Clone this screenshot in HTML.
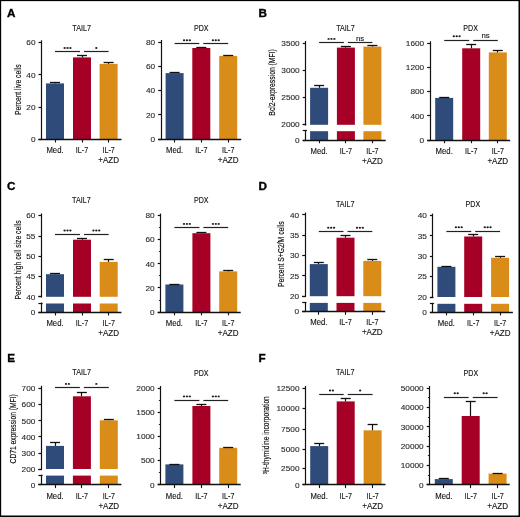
<!DOCTYPE html>
<html><head><meta charset="utf-8"><style>
html,body{margin:0;padding:0;background:#fff;width:520px;height:517px;overflow:hidden;}
svg text{font-family:"Liberation Sans", sans-serif;}
</style></head><body>
<svg width="520" height="517" viewBox="0 0 520 517" style="position:absolute;left:0;top:0;will-change:transform;font-family:'Liberation Sans', sans-serif">
<rect x="0" y="0" width="520" height="517" fill="#fff"/>
<rect x="46.00" y="83.40" width="18.00" height="55.90" fill="#2e4b7a"/>
<line x1="55.50" y1="83.40" x2="55.50" y2="82.50" stroke="#111" stroke-width="1.2"/>
<line x1="50.00" y1="82.50" x2="60.00" y2="82.50" stroke="#111" stroke-width="1.3"/>
<rect x="73.00" y="57.40" width="18.00" height="81.90" fill="#a60026"/>
<line x1="82.50" y1="57.40" x2="82.50" y2="55.20" stroke="#111" stroke-width="1.2"/>
<line x1="77.00" y1="55.50" x2="87.00" y2="55.50" stroke="#111" stroke-width="1.3"/>
<rect x="99.60" y="63.90" width="18.00" height="75.40" fill="#da8c19"/>
<line x1="108.50" y1="63.90" x2="108.50" y2="62.50" stroke="#111" stroke-width="1.2"/>
<line x1="103.60" y1="62.50" x2="113.60" y2="62.50" stroke="#111" stroke-width="1.3"/>
<line x1="41.50" y1="40.30" x2="41.50" y2="139.30" stroke="#111" stroke-width="1.2"/>
<line x1="38.50" y1="139.50" x2="121.50" y2="139.50" stroke="#111" stroke-width="1.4"/>
<line x1="55.50" y1="139.30" x2="55.50" y2="142.50" stroke="#111" stroke-width="1.1"/>
<line x1="82.50" y1="139.30" x2="82.50" y2="142.50" stroke="#111" stroke-width="1.1"/>
<line x1="108.50" y1="139.30" x2="108.50" y2="142.50" stroke="#111" stroke-width="1.1"/>
<line x1="38.50" y1="139.50" x2="41.50" y2="139.50" stroke="#111" stroke-width="1.2"/>
<text x="35.50" y="142.05" font-size="7.9" text-anchor="end" fill="#2a2a2a" font-weight="normal" textLength="4.6" lengthAdjust="spacingAndGlyphs" stroke="#2a2a2a" stroke-width="0.12">0</text>
<line x1="38.50" y1="107.50" x2="41.50" y2="107.50" stroke="#111" stroke-width="1.2"/>
<text x="35.50" y="109.78" font-size="7.9" text-anchor="end" fill="#2a2a2a" font-weight="normal" textLength="9.2" lengthAdjust="spacingAndGlyphs" stroke="#2a2a2a" stroke-width="0.12">20</text>
<line x1="38.50" y1="74.50" x2="41.50" y2="74.50" stroke="#111" stroke-width="1.2"/>
<text x="35.50" y="77.52" font-size="7.9" text-anchor="end" fill="#2a2a2a" font-weight="normal" textLength="9.2" lengthAdjust="spacingAndGlyphs" stroke="#2a2a2a" stroke-width="0.12">40</text>
<line x1="38.50" y1="42.50" x2="41.50" y2="42.50" stroke="#111" stroke-width="1.2"/>
<text x="35.50" y="45.25" font-size="7.9" text-anchor="end" fill="#2a2a2a" font-weight="normal" textLength="9.2" lengthAdjust="spacingAndGlyphs" stroke="#2a2a2a" stroke-width="0.12">60</text>
<text x="55.00" y="153.00" font-size="8.3" text-anchor="middle" fill="#111" font-weight="normal" textLength="17.2" lengthAdjust="spacingAndGlyphs" stroke="#111" stroke-width="0.12">Med.</text>
<text x="82.00" y="153.00" font-size="8.3" text-anchor="middle" fill="#111" font-weight="normal" textLength="12.3" lengthAdjust="spacingAndGlyphs" stroke="#111" stroke-width="0.12">IL-7</text>
<text x="108.60" y="153.00" font-size="8.3" text-anchor="middle" fill="#111" font-weight="normal" textLength="12.3" lengthAdjust="spacingAndGlyphs" stroke="#111" stroke-width="0.12">IL-7</text>
<text x="108.60" y="163.10" font-size="8.3" text-anchor="middle" fill="#111" font-weight="normal" textLength="20.8" lengthAdjust="spacingAndGlyphs" stroke="#111" stroke-width="0.12">+AZD</text>
<text x="81.60" y="30.60" font-size="8.2" text-anchor="middle" fill="#111" font-weight="normal" textLength="18.6" lengthAdjust="spacingAndGlyphs" stroke="#111" stroke-width="0.12">TAIL7</text>
<line x1="55.00" y1="51.50" x2="80.00" y2="51.50" stroke="#222" stroke-width="1.2"/>
<line x1="84.00" y1="51.50" x2="108.60" y2="51.50" stroke="#222" stroke-width="1.2"/>
<ellipse cx="64.60" cy="48.00" rx="1.15" ry="0.95" fill="#1a1a1a"/>
<ellipse cx="67.50" cy="48.00" rx="1.15" ry="0.95" fill="#1a1a1a"/>
<ellipse cx="70.40" cy="48.00" rx="1.15" ry="0.95" fill="#1a1a1a"/>
<ellipse cx="96.30" cy="48.00" rx="1.15" ry="0.95" fill="#1a1a1a"/>
<text transform="translate(20.90,89.70) rotate(-90)" x="0" y="0" font-size="8.8" text-anchor="middle" fill="#111" stroke="#111" stroke-width="0.18" textLength="50.5" lengthAdjust="spacingAndGlyphs">Percent live cells</text>
<rect x="165.60" y="73.10" width="18.00" height="66.20" fill="#2e4b7a"/>
<line x1="174.50" y1="73.10" x2="174.50" y2="72.60" stroke="#111" stroke-width="1.2"/>
<line x1="169.60" y1="72.50" x2="179.60" y2="72.50" stroke="#111" stroke-width="1.3"/>
<rect x="192.30" y="48.00" width="18.00" height="91.30" fill="#a60026"/>
<line x1="201.50" y1="48.00" x2="201.50" y2="47.30" stroke="#111" stroke-width="1.2"/>
<line x1="196.30" y1="47.50" x2="206.30" y2="47.50" stroke="#111" stroke-width="1.3"/>
<rect x="219.20" y="55.90" width="18.00" height="83.40" fill="#da8c19"/>
<line x1="228.50" y1="55.90" x2="228.50" y2="55.30" stroke="#111" stroke-width="1.2"/>
<line x1="223.20" y1="55.50" x2="233.20" y2="55.50" stroke="#111" stroke-width="1.3"/>
<line x1="161.50" y1="40.00" x2="161.50" y2="139.30" stroke="#111" stroke-width="1.2"/>
<line x1="158.20" y1="139.50" x2="241.20" y2="139.50" stroke="#111" stroke-width="1.4"/>
<line x1="174.50" y1="139.30" x2="174.50" y2="142.50" stroke="#111" stroke-width="1.1"/>
<line x1="201.50" y1="139.30" x2="201.50" y2="142.50" stroke="#111" stroke-width="1.1"/>
<line x1="228.50" y1="139.30" x2="228.50" y2="142.50" stroke="#111" stroke-width="1.1"/>
<line x1="158.20" y1="139.50" x2="161.20" y2="139.50" stroke="#111" stroke-width="1.2"/>
<text x="155.20" y="142.05" font-size="7.9" text-anchor="end" fill="#2a2a2a" font-weight="normal" textLength="4.6" lengthAdjust="spacingAndGlyphs" stroke="#2a2a2a" stroke-width="0.12">0</text>
<line x1="158.20" y1="114.50" x2="161.20" y2="114.50" stroke="#111" stroke-width="1.2"/>
<text x="155.20" y="117.73" font-size="7.9" text-anchor="end" fill="#2a2a2a" font-weight="normal" textLength="9.2" lengthAdjust="spacingAndGlyphs" stroke="#2a2a2a" stroke-width="0.12">20</text>
<line x1="158.20" y1="90.50" x2="161.20" y2="90.50" stroke="#111" stroke-width="1.2"/>
<text x="155.20" y="93.40" font-size="7.9" text-anchor="end" fill="#2a2a2a" font-weight="normal" textLength="9.2" lengthAdjust="spacingAndGlyphs" stroke="#2a2a2a" stroke-width="0.12">40</text>
<line x1="158.20" y1="66.50" x2="161.20" y2="66.50" stroke="#111" stroke-width="1.2"/>
<text x="155.20" y="69.08" font-size="7.9" text-anchor="end" fill="#2a2a2a" font-weight="normal" textLength="9.2" lengthAdjust="spacingAndGlyphs" stroke="#2a2a2a" stroke-width="0.12">60</text>
<line x1="158.20" y1="42.50" x2="161.20" y2="42.50" stroke="#111" stroke-width="1.2"/>
<text x="155.20" y="44.75" font-size="7.9" text-anchor="end" fill="#2a2a2a" font-weight="normal" textLength="9.2" lengthAdjust="spacingAndGlyphs" stroke="#2a2a2a" stroke-width="0.12">80</text>
<text x="174.60" y="153.00" font-size="8.3" text-anchor="middle" fill="#111" font-weight="normal" textLength="17.2" lengthAdjust="spacingAndGlyphs" stroke="#111" stroke-width="0.12">Med.</text>
<text x="201.30" y="153.00" font-size="8.3" text-anchor="middle" fill="#111" font-weight="normal" textLength="12.3" lengthAdjust="spacingAndGlyphs" stroke="#111" stroke-width="0.12">IL-7</text>
<text x="228.20" y="153.00" font-size="8.3" text-anchor="middle" fill="#111" font-weight="normal" textLength="12.3" lengthAdjust="spacingAndGlyphs" stroke="#111" stroke-width="0.12">IL-7</text>
<text x="228.20" y="163.10" font-size="8.3" text-anchor="middle" fill="#111" font-weight="normal" textLength="20.8" lengthAdjust="spacingAndGlyphs" stroke="#111" stroke-width="0.12">+AZD</text>
<text x="201.30" y="30.70" font-size="8.2" text-anchor="middle" fill="#111" font-weight="normal" textLength="14.6" lengthAdjust="spacingAndGlyphs" stroke="#111" stroke-width="0.12">PDX</text>
<line x1="174.60" y1="43.50" x2="199.30" y2="43.50" stroke="#222" stroke-width="1.2"/>
<line x1="203.30" y1="43.50" x2="228.20" y2="43.50" stroke="#222" stroke-width="1.2"/>
<ellipse cx="184.05" cy="40.20" rx="1.15" ry="0.95" fill="#1a1a1a"/>
<ellipse cx="186.95" cy="40.20" rx="1.15" ry="0.95" fill="#1a1a1a"/>
<ellipse cx="189.85" cy="40.20" rx="1.15" ry="0.95" fill="#1a1a1a"/>
<ellipse cx="212.85" cy="40.20" rx="1.15" ry="0.95" fill="#1a1a1a"/>
<ellipse cx="215.75" cy="40.20" rx="1.15" ry="0.95" fill="#1a1a1a"/>
<ellipse cx="218.65" cy="40.20" rx="1.15" ry="0.95" fill="#1a1a1a"/>
<rect x="310.10" y="87.80" width="18.00" height="37.00" fill="#2e4b7a"/>
<rect x="310.10" y="131.20" width="18.00" height="8.80" fill="#2e4b7a"/>
<line x1="319.50" y1="87.80" x2="319.50" y2="85.30" stroke="#111" stroke-width="1.2"/>
<line x1="314.10" y1="85.50" x2="324.10" y2="85.50" stroke="#111" stroke-width="1.3"/>
<rect x="336.90" y="47.60" width="18.00" height="77.20" fill="#a60026"/>
<rect x="336.90" y="131.20" width="18.00" height="8.80" fill="#a60026"/>
<line x1="345.50" y1="47.60" x2="345.50" y2="46.10" stroke="#111" stroke-width="1.2"/>
<line x1="340.90" y1="46.50" x2="350.90" y2="46.50" stroke="#111" stroke-width="1.3"/>
<rect x="363.40" y="46.60" width="18.00" height="78.20" fill="#da8c19"/>
<rect x="363.40" y="131.20" width="18.00" height="8.80" fill="#da8c19"/>
<line x1="372.50" y1="46.60" x2="372.50" y2="45.60" stroke="#111" stroke-width="1.2"/>
<line x1="367.40" y1="45.50" x2="377.40" y2="45.50" stroke="#111" stroke-width="1.3"/>
<line x1="305.50" y1="41.00" x2="305.50" y2="125.50" stroke="#111" stroke-width="1.2"/>
<line x1="305.50" y1="130.30" x2="305.50" y2="140.00" stroke="#111" stroke-width="1.2"/>
<line x1="302.70" y1="124.50" x2="306.30" y2="124.50" stroke="#111" stroke-width="1.2"/>
<line x1="302.70" y1="130.50" x2="306.90" y2="130.50" stroke="#111" stroke-width="1.2"/>
<line x1="302.70" y1="140.50" x2="385.70" y2="140.50" stroke="#111" stroke-width="1.4"/>
<line x1="319.50" y1="140.00" x2="319.50" y2="143.20" stroke="#111" stroke-width="1.1"/>
<line x1="345.50" y1="140.00" x2="345.50" y2="143.20" stroke="#111" stroke-width="1.1"/>
<line x1="372.50" y1="140.00" x2="372.50" y2="143.20" stroke="#111" stroke-width="1.1"/>
<line x1="302.70" y1="140.50" x2="305.70" y2="140.50" stroke="#111" stroke-width="1.2"/>
<text x="299.70" y="142.75" font-size="7.9" text-anchor="end" fill="#2a2a2a" font-weight="normal" textLength="4.6" lengthAdjust="spacingAndGlyphs" stroke="#2a2a2a" stroke-width="0.12">0</text>
<line x1="302.70" y1="124.50" x2="305.70" y2="124.50" stroke="#111" stroke-width="1.2"/>
<text x="299.70" y="127.35" font-size="7.9" text-anchor="end" fill="#2a2a2a" font-weight="normal" textLength="18.4" lengthAdjust="spacingAndGlyphs" stroke="#2a2a2a" stroke-width="0.12">2000</text>
<line x1="302.70" y1="97.50" x2="305.70" y2="97.50" stroke="#111" stroke-width="1.2"/>
<text x="299.70" y="100.15" font-size="7.9" text-anchor="end" fill="#2a2a2a" font-weight="normal" textLength="18.4" lengthAdjust="spacingAndGlyphs" stroke="#2a2a2a" stroke-width="0.12">2500</text>
<line x1="302.70" y1="70.50" x2="305.70" y2="70.50" stroke="#111" stroke-width="1.2"/>
<text x="299.70" y="72.95" font-size="7.9" text-anchor="end" fill="#2a2a2a" font-weight="normal" textLength="18.4" lengthAdjust="spacingAndGlyphs" stroke="#2a2a2a" stroke-width="0.12">3000</text>
<line x1="302.70" y1="43.50" x2="305.70" y2="43.50" stroke="#111" stroke-width="1.2"/>
<text x="299.70" y="45.75" font-size="7.9" text-anchor="end" fill="#2a2a2a" font-weight="normal" textLength="18.4" lengthAdjust="spacingAndGlyphs" stroke="#2a2a2a" stroke-width="0.12">3500</text>
<text x="319.10" y="153.70" font-size="8.3" text-anchor="middle" fill="#111" font-weight="normal" textLength="17.2" lengthAdjust="spacingAndGlyphs" stroke="#111" stroke-width="0.12">Med.</text>
<text x="345.90" y="153.70" font-size="8.3" text-anchor="middle" fill="#111" font-weight="normal" textLength="12.3" lengthAdjust="spacingAndGlyphs" stroke="#111" stroke-width="0.12">IL-7</text>
<text x="372.40" y="153.70" font-size="8.3" text-anchor="middle" fill="#111" font-weight="normal" textLength="12.3" lengthAdjust="spacingAndGlyphs" stroke="#111" stroke-width="0.12">IL-7</text>
<text x="372.40" y="163.80" font-size="8.3" text-anchor="middle" fill="#111" font-weight="normal" textLength="20.8" lengthAdjust="spacingAndGlyphs" stroke="#111" stroke-width="0.12">+AZD</text>
<text x="345.50" y="31.00" font-size="8.2" text-anchor="middle" fill="#111" font-weight="normal" textLength="18.6" lengthAdjust="spacingAndGlyphs" stroke="#111" stroke-width="0.12">TAIL7</text>
<line x1="319.10" y1="42.50" x2="343.90" y2="42.50" stroke="#222" stroke-width="1.2"/>
<line x1="347.90" y1="42.50" x2="372.40" y2="42.50" stroke="#222" stroke-width="1.2"/>
<ellipse cx="328.60" cy="38.90" rx="1.15" ry="0.95" fill="#1a1a1a"/>
<ellipse cx="331.50" cy="38.90" rx="1.15" ry="0.95" fill="#1a1a1a"/>
<ellipse cx="334.40" cy="38.90" rx="1.15" ry="0.95" fill="#1a1a1a"/>
<text x="360.15" y="41.00" font-size="7.8" text-anchor="middle" fill="#111" font-weight="normal" stroke="#111" stroke-width="0.12">ns</text>
<text transform="translate(274.90,82.40) rotate(-90)" x="0" y="0" font-size="8.8" text-anchor="middle" fill="#111" stroke="#111" stroke-width="0.18" textLength="66.5" lengthAdjust="spacingAndGlyphs">Bcl2-expression (MFI)</text>
<rect x="435.20" y="97.90" width="18.00" height="42.10" fill="#2e4b7a"/>
<line x1="444.50" y1="97.90" x2="444.50" y2="97.40" stroke="#111" stroke-width="1.2"/>
<line x1="439.20" y1="97.50" x2="449.20" y2="97.50" stroke="#111" stroke-width="1.3"/>
<rect x="462.20" y="48.30" width="18.00" height="91.70" fill="#a60026"/>
<line x1="471.50" y1="48.30" x2="471.50" y2="44.40" stroke="#111" stroke-width="1.2"/>
<line x1="466.20" y1="44.50" x2="476.20" y2="44.50" stroke="#111" stroke-width="1.3"/>
<rect x="488.80" y="52.40" width="18.00" height="87.60" fill="#da8c19"/>
<line x1="497.50" y1="52.40" x2="497.50" y2="50.30" stroke="#111" stroke-width="1.2"/>
<line x1="492.80" y1="50.50" x2="502.80" y2="50.50" stroke="#111" stroke-width="1.3"/>
<line x1="430.50" y1="41.30" x2="430.50" y2="140.00" stroke="#111" stroke-width="1.2"/>
<line x1="427.20" y1="140.50" x2="510.20" y2="140.50" stroke="#111" stroke-width="1.4"/>
<line x1="444.50" y1="140.00" x2="444.50" y2="143.20" stroke="#111" stroke-width="1.1"/>
<line x1="471.50" y1="140.00" x2="471.50" y2="143.20" stroke="#111" stroke-width="1.1"/>
<line x1="497.50" y1="140.00" x2="497.50" y2="143.20" stroke="#111" stroke-width="1.1"/>
<line x1="427.20" y1="140.50" x2="430.20" y2="140.50" stroke="#111" stroke-width="1.2"/>
<text x="424.20" y="142.75" font-size="7.9" text-anchor="end" fill="#2a2a2a" font-weight="normal" textLength="4.6" lengthAdjust="spacingAndGlyphs" stroke="#2a2a2a" stroke-width="0.12">0</text>
<line x1="427.20" y1="115.50" x2="430.20" y2="115.50" stroke="#111" stroke-width="1.2"/>
<text x="424.20" y="118.53" font-size="7.9" text-anchor="end" fill="#2a2a2a" font-weight="normal" textLength="13.799999999999999" lengthAdjust="spacingAndGlyphs" stroke="#2a2a2a" stroke-width="0.12">400</text>
<line x1="427.20" y1="91.50" x2="430.20" y2="91.50" stroke="#111" stroke-width="1.2"/>
<text x="424.20" y="94.30" font-size="7.9" text-anchor="end" fill="#2a2a2a" font-weight="normal" textLength="13.799999999999999" lengthAdjust="spacingAndGlyphs" stroke="#2a2a2a" stroke-width="0.12">800</text>
<line x1="427.20" y1="67.50" x2="430.20" y2="67.50" stroke="#111" stroke-width="1.2"/>
<text x="424.20" y="70.08" font-size="7.9" text-anchor="end" fill="#2a2a2a" font-weight="normal" textLength="18.4" lengthAdjust="spacingAndGlyphs" stroke="#2a2a2a" stroke-width="0.12">1200</text>
<line x1="427.20" y1="43.50" x2="430.20" y2="43.50" stroke="#111" stroke-width="1.2"/>
<text x="424.20" y="45.85" font-size="7.9" text-anchor="end" fill="#2a2a2a" font-weight="normal" textLength="18.4" lengthAdjust="spacingAndGlyphs" stroke="#2a2a2a" stroke-width="0.12">1600</text>
<text x="444.20" y="153.70" font-size="8.3" text-anchor="middle" fill="#111" font-weight="normal" textLength="17.2" lengthAdjust="spacingAndGlyphs" stroke="#111" stroke-width="0.12">Med.</text>
<text x="471.20" y="153.70" font-size="8.3" text-anchor="middle" fill="#111" font-weight="normal" textLength="12.3" lengthAdjust="spacingAndGlyphs" stroke="#111" stroke-width="0.12">IL-7</text>
<text x="497.80" y="153.70" font-size="8.3" text-anchor="middle" fill="#111" font-weight="normal" textLength="12.3" lengthAdjust="spacingAndGlyphs" stroke="#111" stroke-width="0.12">IL-7</text>
<text x="497.80" y="163.80" font-size="8.3" text-anchor="middle" fill="#111" font-weight="normal" textLength="20.8" lengthAdjust="spacingAndGlyphs" stroke="#111" stroke-width="0.12">+AZD</text>
<text x="470.60" y="30.70" font-size="8.2" text-anchor="middle" fill="#111" font-weight="normal" textLength="14.6" lengthAdjust="spacingAndGlyphs" stroke="#111" stroke-width="0.12">PDX</text>
<line x1="444.20" y1="40.50" x2="469.20" y2="40.50" stroke="#222" stroke-width="1.2"/>
<line x1="473.20" y1="40.50" x2="497.80" y2="40.50" stroke="#222" stroke-width="1.2"/>
<ellipse cx="453.80" cy="36.30" rx="1.15" ry="0.95" fill="#1a1a1a"/>
<ellipse cx="456.70" cy="36.30" rx="1.15" ry="0.95" fill="#1a1a1a"/>
<ellipse cx="459.60" cy="36.30" rx="1.15" ry="0.95" fill="#1a1a1a"/>
<text x="485.50" y="38.40" font-size="7.8" text-anchor="middle" fill="#111" font-weight="normal" stroke="#111" stroke-width="0.12">ns</text>
<rect x="46.00" y="274.20" width="18.00" height="22.60" fill="#2e4b7a"/>
<rect x="46.00" y="303.50" width="18.00" height="8.80" fill="#2e4b7a"/>
<line x1="55.50" y1="274.20" x2="55.50" y2="273.60" stroke="#111" stroke-width="1.2"/>
<line x1="50.00" y1="273.50" x2="60.00" y2="273.50" stroke="#111" stroke-width="1.3"/>
<rect x="73.00" y="239.70" width="18.00" height="57.10" fill="#a60026"/>
<rect x="73.00" y="303.50" width="18.00" height="8.80" fill="#a60026"/>
<line x1="82.50" y1="239.70" x2="82.50" y2="238.20" stroke="#111" stroke-width="1.2"/>
<line x1="77.00" y1="238.50" x2="87.00" y2="238.50" stroke="#111" stroke-width="1.3"/>
<rect x="99.70" y="261.90" width="18.00" height="34.90" fill="#da8c19"/>
<rect x="99.70" y="303.50" width="18.00" height="8.80" fill="#da8c19"/>
<line x1="108.50" y1="261.90" x2="108.50" y2="259.80" stroke="#111" stroke-width="1.2"/>
<line x1="103.70" y1="259.50" x2="113.70" y2="259.50" stroke="#111" stroke-width="1.3"/>
<line x1="41.50" y1="213.40" x2="41.50" y2="297.50" stroke="#111" stroke-width="1.2"/>
<line x1="41.50" y1="302.60" x2="41.50" y2="312.30" stroke="#111" stroke-width="1.2"/>
<line x1="38.40" y1="296.50" x2="42.00" y2="296.50" stroke="#111" stroke-width="1.2"/>
<line x1="38.40" y1="303.50" x2="42.60" y2="303.50" stroke="#111" stroke-width="1.2"/>
<line x1="38.40" y1="312.50" x2="121.40" y2="312.50" stroke="#111" stroke-width="1.4"/>
<line x1="55.50" y1="312.30" x2="55.50" y2="315.50" stroke="#111" stroke-width="1.1"/>
<line x1="82.50" y1="312.30" x2="82.50" y2="315.50" stroke="#111" stroke-width="1.1"/>
<line x1="108.50" y1="312.30" x2="108.50" y2="315.50" stroke="#111" stroke-width="1.1"/>
<line x1="38.40" y1="312.50" x2="41.40" y2="312.50" stroke="#111" stroke-width="1.2"/>
<text x="35.40" y="315.05" font-size="7.9" text-anchor="end" fill="#2a2a2a" font-weight="normal" textLength="4.6" lengthAdjust="spacingAndGlyphs" stroke="#2a2a2a" stroke-width="0.12">0</text>
<line x1="38.40" y1="296.50" x2="41.40" y2="296.50" stroke="#111" stroke-width="1.2"/>
<text x="35.40" y="299.65" font-size="7.9" text-anchor="end" fill="#2a2a2a" font-weight="normal" textLength="9.2" lengthAdjust="spacingAndGlyphs" stroke="#2a2a2a" stroke-width="0.12">40</text>
<line x1="38.40" y1="276.50" x2="41.40" y2="276.50" stroke="#111" stroke-width="1.2"/>
<text x="35.40" y="279.35" font-size="7.9" text-anchor="end" fill="#2a2a2a" font-weight="normal" textLength="9.2" lengthAdjust="spacingAndGlyphs" stroke="#2a2a2a" stroke-width="0.12">45</text>
<line x1="38.40" y1="256.50" x2="41.40" y2="256.50" stroke="#111" stroke-width="1.2"/>
<text x="35.40" y="259.05" font-size="7.9" text-anchor="end" fill="#2a2a2a" font-weight="normal" textLength="9.2" lengthAdjust="spacingAndGlyphs" stroke="#2a2a2a" stroke-width="0.12">50</text>
<line x1="38.40" y1="236.50" x2="41.40" y2="236.50" stroke="#111" stroke-width="1.2"/>
<text x="35.40" y="238.75" font-size="7.9" text-anchor="end" fill="#2a2a2a" font-weight="normal" textLength="9.2" lengthAdjust="spacingAndGlyphs" stroke="#2a2a2a" stroke-width="0.12">55</text>
<line x1="38.40" y1="215.50" x2="41.40" y2="215.50" stroke="#111" stroke-width="1.2"/>
<text x="35.40" y="218.35" font-size="7.9" text-anchor="end" fill="#2a2a2a" font-weight="normal" textLength="9.2" lengthAdjust="spacingAndGlyphs" stroke="#2a2a2a" stroke-width="0.12">60</text>
<text x="55.00" y="326.00" font-size="8.3" text-anchor="middle" fill="#111" font-weight="normal" textLength="17.2" lengthAdjust="spacingAndGlyphs" stroke="#111" stroke-width="0.12">Med.</text>
<text x="82.00" y="326.00" font-size="8.3" text-anchor="middle" fill="#111" font-weight="normal" textLength="12.3" lengthAdjust="spacingAndGlyphs" stroke="#111" stroke-width="0.12">IL-7</text>
<text x="108.70" y="326.00" font-size="8.3" text-anchor="middle" fill="#111" font-weight="normal" textLength="12.3" lengthAdjust="spacingAndGlyphs" stroke="#111" stroke-width="0.12">IL-7</text>
<text x="108.70" y="336.10" font-size="8.3" text-anchor="middle" fill="#111" font-weight="normal" textLength="20.8" lengthAdjust="spacingAndGlyphs" stroke="#111" stroke-width="0.12">+AZD</text>
<text x="81.40" y="203.00" font-size="8.2" text-anchor="middle" fill="#111" font-weight="normal" textLength="18.6" lengthAdjust="spacingAndGlyphs" stroke="#111" stroke-width="0.12">TAIL7</text>
<line x1="55.00" y1="234.50" x2="80.00" y2="234.50" stroke="#222" stroke-width="1.2"/>
<line x1="84.00" y1="234.50" x2="108.70" y2="234.50" stroke="#222" stroke-width="1.2"/>
<ellipse cx="64.60" cy="230.50" rx="1.15" ry="0.95" fill="#1a1a1a"/>
<ellipse cx="67.50" cy="230.50" rx="1.15" ry="0.95" fill="#1a1a1a"/>
<ellipse cx="70.40" cy="230.50" rx="1.15" ry="0.95" fill="#1a1a1a"/>
<ellipse cx="93.45" cy="230.50" rx="1.15" ry="0.95" fill="#1a1a1a"/>
<ellipse cx="96.35" cy="230.50" rx="1.15" ry="0.95" fill="#1a1a1a"/>
<ellipse cx="99.25" cy="230.50" rx="1.15" ry="0.95" fill="#1a1a1a"/>
<text transform="translate(20.90,260.00) rotate(-90)" x="0" y="0" font-size="8.8" text-anchor="middle" fill="#111" stroke="#111" stroke-width="0.18" textLength="79" lengthAdjust="spacingAndGlyphs">Percent high cell size cells</text>
<rect x="165.40" y="284.50" width="18.00" height="27.60" fill="#2e4b7a"/>
<line x1="174.50" y1="284.50" x2="174.50" y2="284.00" stroke="#111" stroke-width="1.2"/>
<line x1="169.40" y1="284.50" x2="179.40" y2="284.50" stroke="#111" stroke-width="1.3"/>
<rect x="192.40" y="233.20" width="18.00" height="78.90" fill="#a60026"/>
<line x1="201.50" y1="233.20" x2="201.50" y2="232.60" stroke="#111" stroke-width="1.2"/>
<line x1="196.40" y1="232.50" x2="206.40" y2="232.50" stroke="#111" stroke-width="1.3"/>
<rect x="219.20" y="271.40" width="18.00" height="40.70" fill="#da8c19"/>
<line x1="228.50" y1="271.40" x2="228.50" y2="270.80" stroke="#111" stroke-width="1.2"/>
<line x1="223.20" y1="270.50" x2="233.20" y2="270.50" stroke="#111" stroke-width="1.3"/>
<line x1="160.50" y1="213.60" x2="160.50" y2="312.10" stroke="#111" stroke-width="1.2"/>
<line x1="157.70" y1="312.50" x2="240.70" y2="312.50" stroke="#111" stroke-width="1.4"/>
<line x1="174.50" y1="312.10" x2="174.50" y2="315.30" stroke="#111" stroke-width="1.1"/>
<line x1="201.50" y1="312.10" x2="201.50" y2="315.30" stroke="#111" stroke-width="1.1"/>
<line x1="228.50" y1="312.10" x2="228.50" y2="315.30" stroke="#111" stroke-width="1.1"/>
<line x1="157.70" y1="312.50" x2="160.70" y2="312.50" stroke="#111" stroke-width="1.2"/>
<text x="154.70" y="314.85" font-size="7.9" text-anchor="end" fill="#2a2a2a" font-weight="normal" textLength="4.6" lengthAdjust="spacingAndGlyphs" stroke="#2a2a2a" stroke-width="0.12">0</text>
<line x1="157.70" y1="287.50" x2="160.70" y2="287.50" stroke="#111" stroke-width="1.2"/>
<text x="154.70" y="290.73" font-size="7.9" text-anchor="end" fill="#2a2a2a" font-weight="normal" textLength="9.2" lengthAdjust="spacingAndGlyphs" stroke="#2a2a2a" stroke-width="0.12">20</text>
<line x1="157.70" y1="263.50" x2="160.70" y2="263.50" stroke="#111" stroke-width="1.2"/>
<text x="154.70" y="266.60" font-size="7.9" text-anchor="end" fill="#2a2a2a" font-weight="normal" textLength="9.2" lengthAdjust="spacingAndGlyphs" stroke="#2a2a2a" stroke-width="0.12">40</text>
<line x1="157.70" y1="239.50" x2="160.70" y2="239.50" stroke="#111" stroke-width="1.2"/>
<text x="154.70" y="242.47" font-size="7.9" text-anchor="end" fill="#2a2a2a" font-weight="normal" textLength="9.2" lengthAdjust="spacingAndGlyphs" stroke="#2a2a2a" stroke-width="0.12">60</text>
<line x1="157.70" y1="215.50" x2="160.70" y2="215.50" stroke="#111" stroke-width="1.2"/>
<text x="154.70" y="218.35" font-size="7.9" text-anchor="end" fill="#2a2a2a" font-weight="normal" textLength="9.2" lengthAdjust="spacingAndGlyphs" stroke="#2a2a2a" stroke-width="0.12">80</text>
<line x1="158.90" y1="300.50" x2="160.70" y2="300.50" stroke="#111" stroke-width="0.9"/>
<line x1="158.90" y1="275.50" x2="160.70" y2="275.50" stroke="#111" stroke-width="0.9"/>
<line x1="158.90" y1="251.50" x2="160.70" y2="251.50" stroke="#111" stroke-width="0.9"/>
<line x1="158.90" y1="227.50" x2="160.70" y2="227.50" stroke="#111" stroke-width="0.9"/>
<text x="174.40" y="325.80" font-size="8.3" text-anchor="middle" fill="#111" font-weight="normal" textLength="17.2" lengthAdjust="spacingAndGlyphs" stroke="#111" stroke-width="0.12">Med.</text>
<text x="201.40" y="325.80" font-size="8.3" text-anchor="middle" fill="#111" font-weight="normal" textLength="12.3" lengthAdjust="spacingAndGlyphs" stroke="#111" stroke-width="0.12">IL-7</text>
<text x="228.20" y="325.80" font-size="8.3" text-anchor="middle" fill="#111" font-weight="normal" textLength="12.3" lengthAdjust="spacingAndGlyphs" stroke="#111" stroke-width="0.12">IL-7</text>
<text x="228.20" y="335.90" font-size="8.3" text-anchor="middle" fill="#111" font-weight="normal" textLength="20.8" lengthAdjust="spacingAndGlyphs" stroke="#111" stroke-width="0.12">+AZD</text>
<text x="201.20" y="202.50" font-size="8.2" text-anchor="middle" fill="#111" font-weight="normal" textLength="14.6" lengthAdjust="spacingAndGlyphs" stroke="#111" stroke-width="0.12">PDX</text>
<line x1="174.40" y1="227.50" x2="199.40" y2="227.50" stroke="#222" stroke-width="1.2"/>
<line x1="203.40" y1="227.50" x2="228.20" y2="227.50" stroke="#222" stroke-width="1.2"/>
<ellipse cx="184.00" cy="223.90" rx="1.15" ry="0.95" fill="#1a1a1a"/>
<ellipse cx="186.90" cy="223.90" rx="1.15" ry="0.95" fill="#1a1a1a"/>
<ellipse cx="189.80" cy="223.90" rx="1.15" ry="0.95" fill="#1a1a1a"/>
<ellipse cx="212.90" cy="223.90" rx="1.15" ry="0.95" fill="#1a1a1a"/>
<ellipse cx="215.80" cy="223.90" rx="1.15" ry="0.95" fill="#1a1a1a"/>
<ellipse cx="218.70" cy="223.90" rx="1.15" ry="0.95" fill="#1a1a1a"/>
<rect x="309.80" y="264.10" width="18.00" height="32.10" fill="#2e4b7a"/>
<rect x="309.80" y="302.90" width="18.00" height="8.70" fill="#2e4b7a"/>
<line x1="318.50" y1="264.10" x2="318.50" y2="262.40" stroke="#111" stroke-width="1.2"/>
<line x1="313.80" y1="262.50" x2="323.80" y2="262.50" stroke="#111" stroke-width="1.3"/>
<rect x="336.50" y="237.70" width="18.00" height="58.50" fill="#a60026"/>
<rect x="336.50" y="302.90" width="18.00" height="8.70" fill="#a60026"/>
<line x1="345.50" y1="237.70" x2="345.50" y2="235.70" stroke="#111" stroke-width="1.2"/>
<line x1="340.50" y1="235.50" x2="350.50" y2="235.50" stroke="#111" stroke-width="1.3"/>
<rect x="363.30" y="260.90" width="18.00" height="35.30" fill="#da8c19"/>
<rect x="363.30" y="302.90" width="18.00" height="8.70" fill="#da8c19"/>
<line x1="372.50" y1="260.90" x2="372.50" y2="259.80" stroke="#111" stroke-width="1.2"/>
<line x1="367.30" y1="259.50" x2="377.30" y2="259.50" stroke="#111" stroke-width="1.3"/>
<line x1="305.50" y1="212.60" x2="305.50" y2="296.90" stroke="#111" stroke-width="1.2"/>
<line x1="305.50" y1="302.00" x2="305.50" y2="311.60" stroke="#111" stroke-width="1.2"/>
<line x1="302.20" y1="296.50" x2="305.80" y2="296.50" stroke="#111" stroke-width="1.2"/>
<line x1="302.20" y1="302.50" x2="306.40" y2="302.50" stroke="#111" stroke-width="1.2"/>
<line x1="302.20" y1="311.50" x2="385.20" y2="311.50" stroke="#111" stroke-width="1.4"/>
<line x1="318.50" y1="311.60" x2="318.50" y2="314.80" stroke="#111" stroke-width="1.1"/>
<line x1="345.50" y1="311.60" x2="345.50" y2="314.80" stroke="#111" stroke-width="1.1"/>
<line x1="372.50" y1="311.60" x2="372.50" y2="314.80" stroke="#111" stroke-width="1.1"/>
<line x1="302.20" y1="311.50" x2="305.20" y2="311.50" stroke="#111" stroke-width="1.2"/>
<text x="299.20" y="314.35" font-size="7.9" text-anchor="end" fill="#2a2a2a" font-weight="normal" textLength="4.6" lengthAdjust="spacingAndGlyphs" stroke="#2a2a2a" stroke-width="0.12">0</text>
<line x1="302.20" y1="296.50" x2="305.20" y2="296.50" stroke="#111" stroke-width="1.2"/>
<text x="299.20" y="299.05" font-size="7.9" text-anchor="end" fill="#2a2a2a" font-weight="normal" textLength="9.2" lengthAdjust="spacingAndGlyphs" stroke="#2a2a2a" stroke-width="0.12">20</text>
<line x1="302.20" y1="275.50" x2="305.20" y2="275.50" stroke="#111" stroke-width="1.2"/>
<text x="299.20" y="278.65" font-size="7.9" text-anchor="end" fill="#2a2a2a" font-weight="normal" textLength="9.2" lengthAdjust="spacingAndGlyphs" stroke="#2a2a2a" stroke-width="0.12">25</text>
<line x1="302.20" y1="255.50" x2="305.20" y2="255.50" stroke="#111" stroke-width="1.2"/>
<text x="299.20" y="258.35" font-size="7.9" text-anchor="end" fill="#2a2a2a" font-weight="normal" textLength="9.2" lengthAdjust="spacingAndGlyphs" stroke="#2a2a2a" stroke-width="0.12">30</text>
<line x1="302.20" y1="235.50" x2="305.20" y2="235.50" stroke="#111" stroke-width="1.2"/>
<text x="299.20" y="238.05" font-size="7.9" text-anchor="end" fill="#2a2a2a" font-weight="normal" textLength="9.2" lengthAdjust="spacingAndGlyphs" stroke="#2a2a2a" stroke-width="0.12">35</text>
<line x1="302.20" y1="214.50" x2="305.20" y2="214.50" stroke="#111" stroke-width="1.2"/>
<text x="299.20" y="217.55" font-size="7.9" text-anchor="end" fill="#2a2a2a" font-weight="normal" textLength="9.2" lengthAdjust="spacingAndGlyphs" stroke="#2a2a2a" stroke-width="0.12">40</text>
<text x="318.80" y="325.30" font-size="8.3" text-anchor="middle" fill="#111" font-weight="normal" textLength="17.2" lengthAdjust="spacingAndGlyphs" stroke="#111" stroke-width="0.12">Med.</text>
<text x="345.50" y="325.30" font-size="8.3" text-anchor="middle" fill="#111" font-weight="normal" textLength="12.3" lengthAdjust="spacingAndGlyphs" stroke="#111" stroke-width="0.12">IL-7</text>
<text x="372.30" y="325.30" font-size="8.3" text-anchor="middle" fill="#111" font-weight="normal" textLength="12.3" lengthAdjust="spacingAndGlyphs" stroke="#111" stroke-width="0.12">IL-7</text>
<text x="372.30" y="335.40" font-size="8.3" text-anchor="middle" fill="#111" font-weight="normal" textLength="20.8" lengthAdjust="spacingAndGlyphs" stroke="#111" stroke-width="0.12">+AZD</text>
<text x="345.20" y="207.10" font-size="8.2" text-anchor="middle" fill="#111" font-weight="normal" textLength="18.6" lengthAdjust="spacingAndGlyphs" stroke="#111" stroke-width="0.12">TAIL7</text>
<line x1="318.80" y1="231.50" x2="343.50" y2="231.50" stroke="#222" stroke-width="1.2"/>
<line x1="347.50" y1="231.50" x2="372.30" y2="231.50" stroke="#222" stroke-width="1.2"/>
<ellipse cx="328.25" cy="227.70" rx="1.15" ry="0.95" fill="#1a1a1a"/>
<ellipse cx="331.15" cy="227.70" rx="1.15" ry="0.95" fill="#1a1a1a"/>
<ellipse cx="334.05" cy="227.70" rx="1.15" ry="0.95" fill="#1a1a1a"/>
<ellipse cx="357.00" cy="227.70" rx="1.15" ry="0.95" fill="#1a1a1a"/>
<ellipse cx="359.90" cy="227.70" rx="1.15" ry="0.95" fill="#1a1a1a"/>
<ellipse cx="362.80" cy="227.70" rx="1.15" ry="0.95" fill="#1a1a1a"/>
<text transform="translate(284.20,254.20) rotate(-90)" x="0" y="0" font-size="8.8" text-anchor="middle" fill="#111" stroke="#111" stroke-width="0.18" textLength="65.8" lengthAdjust="spacingAndGlyphs">Percent S+G2/M cells</text>
<rect x="437.40" y="266.80" width="18.00" height="30.20" fill="#2e4b7a"/>
<rect x="437.40" y="303.80" width="18.00" height="8.40" fill="#2e4b7a"/>
<line x1="446.50" y1="266.80" x2="446.50" y2="266.30" stroke="#111" stroke-width="1.2"/>
<line x1="441.40" y1="266.50" x2="451.40" y2="266.50" stroke="#111" stroke-width="1.3"/>
<rect x="464.20" y="236.50" width="18.00" height="60.50" fill="#a60026"/>
<rect x="464.20" y="303.80" width="18.00" height="8.40" fill="#a60026"/>
<line x1="473.50" y1="236.50" x2="473.50" y2="234.70" stroke="#111" stroke-width="1.2"/>
<line x1="468.20" y1="234.50" x2="478.20" y2="234.50" stroke="#111" stroke-width="1.3"/>
<rect x="491.10" y="257.80" width="18.00" height="39.20" fill="#da8c19"/>
<rect x="491.10" y="303.80" width="18.00" height="8.40" fill="#da8c19"/>
<line x1="500.50" y1="257.80" x2="500.50" y2="256.80" stroke="#111" stroke-width="1.2"/>
<line x1="495.10" y1="256.50" x2="505.10" y2="256.50" stroke="#111" stroke-width="1.3"/>
<line x1="432.50" y1="213.60" x2="432.50" y2="297.70" stroke="#111" stroke-width="1.2"/>
<line x1="432.50" y1="302.90" x2="432.50" y2="312.20" stroke="#111" stroke-width="1.2"/>
<line x1="429.90" y1="297.50" x2="433.50" y2="297.50" stroke="#111" stroke-width="1.2"/>
<line x1="429.90" y1="303.50" x2="434.10" y2="303.50" stroke="#111" stroke-width="1.2"/>
<line x1="429.90" y1="312.50" x2="512.90" y2="312.50" stroke="#111" stroke-width="1.4"/>
<line x1="446.50" y1="312.20" x2="446.50" y2="315.40" stroke="#111" stroke-width="1.1"/>
<line x1="473.50" y1="312.20" x2="473.50" y2="315.40" stroke="#111" stroke-width="1.1"/>
<line x1="500.50" y1="312.20" x2="500.50" y2="315.40" stroke="#111" stroke-width="1.1"/>
<line x1="429.90" y1="312.50" x2="432.90" y2="312.50" stroke="#111" stroke-width="1.2"/>
<text x="426.90" y="314.95" font-size="7.9" text-anchor="end" fill="#2a2a2a" font-weight="normal" textLength="4.6" lengthAdjust="spacingAndGlyphs" stroke="#2a2a2a" stroke-width="0.12">0</text>
<line x1="429.90" y1="297.50" x2="432.90" y2="297.50" stroke="#111" stroke-width="1.2"/>
<text x="426.90" y="299.85" font-size="7.9" text-anchor="end" fill="#2a2a2a" font-weight="normal" textLength="9.2" lengthAdjust="spacingAndGlyphs" stroke="#2a2a2a" stroke-width="0.12">20</text>
<line x1="429.90" y1="276.50" x2="432.90" y2="276.50" stroke="#111" stroke-width="1.2"/>
<text x="426.90" y="279.25" font-size="7.9" text-anchor="end" fill="#2a2a2a" font-weight="normal" textLength="9.2" lengthAdjust="spacingAndGlyphs" stroke="#2a2a2a" stroke-width="0.12">25</text>
<line x1="429.90" y1="256.50" x2="432.90" y2="256.50" stroke="#111" stroke-width="1.2"/>
<text x="426.90" y="259.05" font-size="7.9" text-anchor="end" fill="#2a2a2a" font-weight="normal" textLength="9.2" lengthAdjust="spacingAndGlyphs" stroke="#2a2a2a" stroke-width="0.12">30</text>
<line x1="429.90" y1="235.50" x2="432.90" y2="235.50" stroke="#111" stroke-width="1.2"/>
<text x="426.90" y="238.65" font-size="7.9" text-anchor="end" fill="#2a2a2a" font-weight="normal" textLength="9.2" lengthAdjust="spacingAndGlyphs" stroke="#2a2a2a" stroke-width="0.12">35</text>
<line x1="429.90" y1="215.50" x2="432.90" y2="215.50" stroke="#111" stroke-width="1.2"/>
<text x="426.90" y="218.45" font-size="7.9" text-anchor="end" fill="#2a2a2a" font-weight="normal" textLength="9.2" lengthAdjust="spacingAndGlyphs" stroke="#2a2a2a" stroke-width="0.12">40</text>
<text x="446.40" y="325.90" font-size="8.3" text-anchor="middle" fill="#111" font-weight="normal" textLength="17.2" lengthAdjust="spacingAndGlyphs" stroke="#111" stroke-width="0.12">Med.</text>
<text x="473.20" y="325.90" font-size="8.3" text-anchor="middle" fill="#111" font-weight="normal" textLength="12.3" lengthAdjust="spacingAndGlyphs" stroke="#111" stroke-width="0.12">IL-7</text>
<text x="500.10" y="325.90" font-size="8.3" text-anchor="middle" fill="#111" font-weight="normal" textLength="12.3" lengthAdjust="spacingAndGlyphs" stroke="#111" stroke-width="0.12">IL-7</text>
<text x="500.10" y="336.00" font-size="8.3" text-anchor="middle" fill="#111" font-weight="normal" textLength="20.8" lengthAdjust="spacingAndGlyphs" stroke="#111" stroke-width="0.12">+AZD</text>
<text x="472.90" y="206.80" font-size="8.2" text-anchor="middle" fill="#111" font-weight="normal" textLength="14.6" lengthAdjust="spacingAndGlyphs" stroke="#111" stroke-width="0.12">PDX</text>
<line x1="446.40" y1="231.50" x2="471.20" y2="231.50" stroke="#222" stroke-width="1.2"/>
<line x1="475.20" y1="231.50" x2="500.10" y2="231.50" stroke="#222" stroke-width="1.2"/>
<ellipse cx="455.90" cy="227.30" rx="1.15" ry="0.95" fill="#1a1a1a"/>
<ellipse cx="458.80" cy="227.30" rx="1.15" ry="0.95" fill="#1a1a1a"/>
<ellipse cx="461.70" cy="227.30" rx="1.15" ry="0.95" fill="#1a1a1a"/>
<ellipse cx="484.75" cy="227.30" rx="1.15" ry="0.95" fill="#1a1a1a"/>
<ellipse cx="487.65" cy="227.30" rx="1.15" ry="0.95" fill="#1a1a1a"/>
<ellipse cx="490.55" cy="227.30" rx="1.15" ry="0.95" fill="#1a1a1a"/>
<rect x="46.00" y="445.90" width="18.00" height="23.10" fill="#2e4b7a"/>
<rect x="46.00" y="475.60" width="18.00" height="9.30" fill="#2e4b7a"/>
<line x1="55.50" y1="445.90" x2="55.50" y2="442.60" stroke="#111" stroke-width="1.2"/>
<line x1="50.00" y1="442.50" x2="60.00" y2="442.50" stroke="#111" stroke-width="1.3"/>
<rect x="72.90" y="396.30" width="18.00" height="72.70" fill="#a60026"/>
<rect x="72.90" y="475.60" width="18.00" height="9.30" fill="#a60026"/>
<line x1="81.50" y1="396.30" x2="81.50" y2="392.20" stroke="#111" stroke-width="1.2"/>
<line x1="76.90" y1="392.50" x2="86.90" y2="392.50" stroke="#111" stroke-width="1.3"/>
<rect x="99.80" y="420.30" width="18.00" height="48.70" fill="#da8c19"/>
<rect x="99.80" y="475.60" width="18.00" height="9.30" fill="#da8c19"/>
<line x1="108.50" y1="420.30" x2="108.50" y2="419.50" stroke="#111" stroke-width="1.2"/>
<line x1="103.80" y1="419.50" x2="113.80" y2="419.50" stroke="#111" stroke-width="1.3"/>
<line x1="41.50" y1="385.80" x2="41.50" y2="469.70" stroke="#111" stroke-width="1.2"/>
<line x1="41.50" y1="474.70" x2="41.50" y2="484.90" stroke="#111" stroke-width="1.2"/>
<line x1="38.40" y1="469.50" x2="42.00" y2="469.50" stroke="#111" stroke-width="1.2"/>
<line x1="38.40" y1="475.50" x2="42.60" y2="475.50" stroke="#111" stroke-width="1.2"/>
<line x1="38.40" y1="484.50" x2="121.40" y2="484.50" stroke="#111" stroke-width="1.4"/>
<line x1="55.50" y1="484.90" x2="55.50" y2="488.10" stroke="#111" stroke-width="1.1"/>
<line x1="81.50" y1="484.90" x2="81.50" y2="488.10" stroke="#111" stroke-width="1.1"/>
<line x1="108.50" y1="484.90" x2="108.50" y2="488.10" stroke="#111" stroke-width="1.1"/>
<line x1="38.40" y1="484.50" x2="41.40" y2="484.50" stroke="#111" stroke-width="1.2"/>
<text x="35.40" y="487.65" font-size="7.9" text-anchor="end" fill="#2a2a2a" font-weight="normal" textLength="4.6" lengthAdjust="spacingAndGlyphs" stroke="#2a2a2a" stroke-width="0.12">0</text>
<line x1="38.40" y1="469.50" x2="41.40" y2="469.50" stroke="#111" stroke-width="1.2"/>
<text x="35.40" y="472.05" font-size="7.9" text-anchor="end" fill="#2a2a2a" font-weight="normal" textLength="13.799999999999999" lengthAdjust="spacingAndGlyphs" stroke="#2a2a2a" stroke-width="0.12">200</text>
<line x1="38.40" y1="453.50" x2="41.40" y2="453.50" stroke="#111" stroke-width="1.2"/>
<text x="35.40" y="455.75" font-size="7.9" text-anchor="end" fill="#2a2a2a" font-weight="normal" textLength="13.799999999999999" lengthAdjust="spacingAndGlyphs" stroke="#2a2a2a" stroke-width="0.12">300</text>
<line x1="38.40" y1="436.50" x2="41.40" y2="436.50" stroke="#111" stroke-width="1.2"/>
<text x="35.40" y="439.65" font-size="7.9" text-anchor="end" fill="#2a2a2a" font-weight="normal" textLength="13.799999999999999" lengthAdjust="spacingAndGlyphs" stroke="#2a2a2a" stroke-width="0.12">400</text>
<line x1="38.40" y1="420.50" x2="41.40" y2="420.50" stroke="#111" stroke-width="1.2"/>
<text x="35.40" y="423.55" font-size="7.9" text-anchor="end" fill="#2a2a2a" font-weight="normal" textLength="13.799999999999999" lengthAdjust="spacingAndGlyphs" stroke="#2a2a2a" stroke-width="0.12">500</text>
<line x1="38.40" y1="404.50" x2="41.40" y2="404.50" stroke="#111" stroke-width="1.2"/>
<text x="35.40" y="407.15" font-size="7.9" text-anchor="end" fill="#2a2a2a" font-weight="normal" textLength="13.799999999999999" lengthAdjust="spacingAndGlyphs" stroke="#2a2a2a" stroke-width="0.12">600</text>
<line x1="38.40" y1="388.50" x2="41.40" y2="388.50" stroke="#111" stroke-width="1.2"/>
<text x="35.40" y="390.85" font-size="7.9" text-anchor="end" fill="#2a2a2a" font-weight="normal" textLength="13.799999999999999" lengthAdjust="spacingAndGlyphs" stroke="#2a2a2a" stroke-width="0.12">700</text>
<text x="55.00" y="498.60" font-size="8.3" text-anchor="middle" fill="#111" font-weight="normal" textLength="17.2" lengthAdjust="spacingAndGlyphs" stroke="#111" stroke-width="0.12">Med.</text>
<text x="81.90" y="498.60" font-size="8.3" text-anchor="middle" fill="#111" font-weight="normal" textLength="12.3" lengthAdjust="spacingAndGlyphs" stroke="#111" stroke-width="0.12">IL-7</text>
<text x="108.80" y="498.60" font-size="8.3" text-anchor="middle" fill="#111" font-weight="normal" textLength="12.3" lengthAdjust="spacingAndGlyphs" stroke="#111" stroke-width="0.12">IL-7</text>
<text x="108.80" y="508.70" font-size="8.3" text-anchor="middle" fill="#111" font-weight="normal" textLength="20.8" lengthAdjust="spacingAndGlyphs" stroke="#111" stroke-width="0.12">+AZD</text>
<text x="81.60" y="374.90" font-size="8.2" text-anchor="middle" fill="#111" font-weight="normal" textLength="18.6" lengthAdjust="spacingAndGlyphs" stroke="#111" stroke-width="0.12">TAIL7</text>
<line x1="55.00" y1="387.50" x2="79.90" y2="387.50" stroke="#222" stroke-width="1.2"/>
<line x1="83.90" y1="387.50" x2="108.80" y2="387.50" stroke="#222" stroke-width="1.2"/>
<ellipse cx="66.00" cy="383.90" rx="1.15" ry="0.95" fill="#1a1a1a"/>
<ellipse cx="68.90" cy="383.90" rx="1.15" ry="0.95" fill="#1a1a1a"/>
<ellipse cx="96.35" cy="383.90" rx="1.15" ry="0.95" fill="#1a1a1a"/>
<text transform="translate(15.90,428.80) rotate(-90)" x="0" y="0" font-size="8.8" text-anchor="middle" fill="#111" stroke="#111" stroke-width="0.18" textLength="69.2" lengthAdjust="spacingAndGlyphs">CD71 expression (MFI)</text>
<rect x="165.40" y="464.40" width="18.00" height="20.50" fill="#2e4b7a"/>
<line x1="174.50" y1="464.40" x2="174.50" y2="464.00" stroke="#111" stroke-width="1.2"/>
<line x1="169.40" y1="464.50" x2="179.40" y2="464.50" stroke="#111" stroke-width="1.3"/>
<rect x="192.40" y="406.00" width="18.00" height="78.90" fill="#a60026"/>
<line x1="201.50" y1="406.00" x2="201.50" y2="404.80" stroke="#111" stroke-width="1.2"/>
<line x1="196.40" y1="404.50" x2="206.40" y2="404.50" stroke="#111" stroke-width="1.3"/>
<rect x="219.20" y="447.80" width="18.00" height="37.10" fill="#da8c19"/>
<line x1="228.50" y1="447.80" x2="228.50" y2="447.10" stroke="#111" stroke-width="1.2"/>
<line x1="223.20" y1="447.50" x2="233.20" y2="447.50" stroke="#111" stroke-width="1.3"/>
<line x1="160.50" y1="386.00" x2="160.50" y2="484.90" stroke="#111" stroke-width="1.2"/>
<line x1="157.70" y1="484.50" x2="240.70" y2="484.50" stroke="#111" stroke-width="1.4"/>
<line x1="174.50" y1="484.90" x2="174.50" y2="488.10" stroke="#111" stroke-width="1.1"/>
<line x1="201.50" y1="484.90" x2="201.50" y2="488.10" stroke="#111" stroke-width="1.1"/>
<line x1="228.50" y1="484.90" x2="228.50" y2="488.10" stroke="#111" stroke-width="1.1"/>
<line x1="157.70" y1="484.50" x2="160.70" y2="484.50" stroke="#111" stroke-width="1.2"/>
<text x="154.70" y="487.65" font-size="7.9" text-anchor="end" fill="#2a2a2a" font-weight="normal" textLength="4.6" lengthAdjust="spacingAndGlyphs" stroke="#2a2a2a" stroke-width="0.12">0</text>
<line x1="157.70" y1="460.50" x2="160.70" y2="460.50" stroke="#111" stroke-width="1.2"/>
<text x="154.70" y="463.45" font-size="7.9" text-anchor="end" fill="#2a2a2a" font-weight="normal" textLength="13.799999999999999" lengthAdjust="spacingAndGlyphs" stroke="#2a2a2a" stroke-width="0.12">500</text>
<line x1="157.70" y1="436.50" x2="160.70" y2="436.50" stroke="#111" stroke-width="1.2"/>
<text x="154.70" y="439.25" font-size="7.9" text-anchor="end" fill="#2a2a2a" font-weight="normal" textLength="18.4" lengthAdjust="spacingAndGlyphs" stroke="#2a2a2a" stroke-width="0.12">1000</text>
<line x1="157.70" y1="412.50" x2="160.70" y2="412.50" stroke="#111" stroke-width="1.2"/>
<text x="154.70" y="415.05" font-size="7.9" text-anchor="end" fill="#2a2a2a" font-weight="normal" textLength="18.4" lengthAdjust="spacingAndGlyphs" stroke="#2a2a2a" stroke-width="0.12">1500</text>
<line x1="157.70" y1="388.50" x2="160.70" y2="388.50" stroke="#111" stroke-width="1.2"/>
<text x="154.70" y="390.85" font-size="7.9" text-anchor="end" fill="#2a2a2a" font-weight="normal" textLength="18.4" lengthAdjust="spacingAndGlyphs" stroke="#2a2a2a" stroke-width="0.12">2000</text>
<line x1="158.90" y1="472.50" x2="160.70" y2="472.50" stroke="#111" stroke-width="0.9"/>
<line x1="158.90" y1="448.50" x2="160.70" y2="448.50" stroke="#111" stroke-width="0.9"/>
<line x1="158.90" y1="424.50" x2="160.70" y2="424.50" stroke="#111" stroke-width="0.9"/>
<line x1="158.90" y1="400.50" x2="160.70" y2="400.50" stroke="#111" stroke-width="0.9"/>
<text x="174.40" y="498.60" font-size="8.3" text-anchor="middle" fill="#111" font-weight="normal" textLength="17.2" lengthAdjust="spacingAndGlyphs" stroke="#111" stroke-width="0.12">Med.</text>
<text x="201.40" y="498.60" font-size="8.3" text-anchor="middle" fill="#111" font-weight="normal" textLength="12.3" lengthAdjust="spacingAndGlyphs" stroke="#111" stroke-width="0.12">IL-7</text>
<text x="228.20" y="498.60" font-size="8.3" text-anchor="middle" fill="#111" font-weight="normal" textLength="12.3" lengthAdjust="spacingAndGlyphs" stroke="#111" stroke-width="0.12">IL-7</text>
<text x="228.20" y="508.70" font-size="8.3" text-anchor="middle" fill="#111" font-weight="normal" textLength="20.8" lengthAdjust="spacingAndGlyphs" stroke="#111" stroke-width="0.12">+AZD</text>
<text x="201.20" y="375.90" font-size="8.2" text-anchor="middle" fill="#111" font-weight="normal" textLength="14.6" lengthAdjust="spacingAndGlyphs" stroke="#111" stroke-width="0.12">PDX</text>
<line x1="174.40" y1="400.50" x2="199.40" y2="400.50" stroke="#222" stroke-width="1.2"/>
<line x1="203.40" y1="400.50" x2="228.20" y2="400.50" stroke="#222" stroke-width="1.2"/>
<ellipse cx="184.00" cy="396.40" rx="1.15" ry="0.95" fill="#1a1a1a"/>
<ellipse cx="186.90" cy="396.40" rx="1.15" ry="0.95" fill="#1a1a1a"/>
<ellipse cx="189.80" cy="396.40" rx="1.15" ry="0.95" fill="#1a1a1a"/>
<ellipse cx="212.90" cy="396.40" rx="1.15" ry="0.95" fill="#1a1a1a"/>
<ellipse cx="215.80" cy="396.40" rx="1.15" ry="0.95" fill="#1a1a1a"/>
<ellipse cx="218.70" cy="396.40" rx="1.15" ry="0.95" fill="#1a1a1a"/>
<rect x="310.20" y="446.10" width="18.00" height="38.80" fill="#2e4b7a"/>
<line x1="319.50" y1="446.10" x2="319.50" y2="443.70" stroke="#111" stroke-width="1.2"/>
<line x1="314.20" y1="443.50" x2="324.20" y2="443.50" stroke="#111" stroke-width="1.3"/>
<rect x="336.70" y="401.40" width="18.00" height="83.50" fill="#a60026"/>
<line x1="345.50" y1="401.40" x2="345.50" y2="398.20" stroke="#111" stroke-width="1.2"/>
<line x1="340.70" y1="398.50" x2="350.70" y2="398.50" stroke="#111" stroke-width="1.3"/>
<rect x="363.60" y="430.30" width="18.00" height="54.60" fill="#da8c19"/>
<line x1="372.50" y1="430.30" x2="372.50" y2="424.30" stroke="#111" stroke-width="1.2"/>
<line x1="367.60" y1="424.50" x2="377.60" y2="424.50" stroke="#111" stroke-width="1.3"/>
<line x1="305.50" y1="386.00" x2="305.50" y2="484.90" stroke="#111" stroke-width="1.2"/>
<line x1="302.50" y1="484.50" x2="385.50" y2="484.50" stroke="#111" stroke-width="1.4"/>
<line x1="319.50" y1="484.90" x2="319.50" y2="488.10" stroke="#111" stroke-width="1.1"/>
<line x1="345.50" y1="484.90" x2="345.50" y2="488.10" stroke="#111" stroke-width="1.1"/>
<line x1="372.50" y1="484.90" x2="372.50" y2="488.10" stroke="#111" stroke-width="1.1"/>
<line x1="302.50" y1="484.50" x2="305.50" y2="484.50" stroke="#111" stroke-width="1.2"/>
<text x="299.50" y="487.65" font-size="7.9" text-anchor="end" fill="#2a2a2a" font-weight="normal" textLength="4.6" lengthAdjust="spacingAndGlyphs" stroke="#2a2a2a" stroke-width="0.12">0</text>
<line x1="302.50" y1="468.50" x2="305.50" y2="468.50" stroke="#111" stroke-width="1.2"/>
<text x="299.50" y="471.05" font-size="7.9" text-anchor="end" fill="#2a2a2a" font-weight="normal" textLength="18.4" lengthAdjust="spacingAndGlyphs" stroke="#2a2a2a" stroke-width="0.12">2500</text>
<line x1="302.50" y1="449.50" x2="305.50" y2="449.50" stroke="#111" stroke-width="1.2"/>
<text x="299.50" y="452.05" font-size="7.9" text-anchor="end" fill="#2a2a2a" font-weight="normal" textLength="18.4" lengthAdjust="spacingAndGlyphs" stroke="#2a2a2a" stroke-width="0.12">5000</text>
<line x1="302.50" y1="429.50" x2="305.50" y2="429.50" stroke="#111" stroke-width="1.2"/>
<text x="299.50" y="431.75" font-size="7.9" text-anchor="end" fill="#2a2a2a" font-weight="normal" textLength="18.4" lengthAdjust="spacingAndGlyphs" stroke="#2a2a2a" stroke-width="0.12">7500</text>
<line x1="302.50" y1="408.50" x2="305.50" y2="408.50" stroke="#111" stroke-width="1.2"/>
<text x="299.50" y="411.25" font-size="7.9" text-anchor="end" fill="#2a2a2a" font-weight="normal" textLength="23.0" lengthAdjust="spacingAndGlyphs" stroke="#2a2a2a" stroke-width="0.12">10000</text>
<line x1="302.50" y1="388.50" x2="305.50" y2="388.50" stroke="#111" stroke-width="1.2"/>
<text x="299.50" y="390.85" font-size="7.9" text-anchor="end" fill="#2a2a2a" font-weight="normal" textLength="23.0" lengthAdjust="spacingAndGlyphs" stroke="#2a2a2a" stroke-width="0.12">12500</text>
<text x="319.20" y="498.60" font-size="8.3" text-anchor="middle" fill="#111" font-weight="normal" textLength="17.2" lengthAdjust="spacingAndGlyphs" stroke="#111" stroke-width="0.12">Med.</text>
<text x="345.70" y="498.60" font-size="8.3" text-anchor="middle" fill="#111" font-weight="normal" textLength="12.3" lengthAdjust="spacingAndGlyphs" stroke="#111" stroke-width="0.12">IL-7</text>
<text x="372.60" y="498.60" font-size="8.3" text-anchor="middle" fill="#111" font-weight="normal" textLength="12.3" lengthAdjust="spacingAndGlyphs" stroke="#111" stroke-width="0.12">IL-7</text>
<text x="372.60" y="508.70" font-size="8.3" text-anchor="middle" fill="#111" font-weight="normal" textLength="20.8" lengthAdjust="spacingAndGlyphs" stroke="#111" stroke-width="0.12">+AZD</text>
<text x="345.20" y="374.90" font-size="8.2" text-anchor="middle" fill="#111" font-weight="normal" textLength="18.6" lengthAdjust="spacingAndGlyphs" stroke="#111" stroke-width="0.12">TAIL7</text>
<line x1="319.20" y1="394.50" x2="343.70" y2="394.50" stroke="#222" stroke-width="1.2"/>
<line x1="347.70" y1="394.50" x2="372.60" y2="394.50" stroke="#222" stroke-width="1.2"/>
<ellipse cx="330.00" cy="390.50" rx="1.15" ry="0.95" fill="#1a1a1a"/>
<ellipse cx="332.90" cy="390.50" rx="1.15" ry="0.95" fill="#1a1a1a"/>
<ellipse cx="360.15" cy="390.50" rx="1.15" ry="0.95" fill="#1a1a1a"/>
<text transform="translate(268.70,435.20) rotate(-90)" x="0" y="0" font-size="8.8" text-anchor="middle" fill="#111" stroke="#111" stroke-width="0.18" textLength="78.0" lengthAdjust="spacingAndGlyphs"><tspan font-size="5" dy="-2.2">3</tspan><tspan dy="2.2">H-thymidine incorporation</tspan></text>
<rect x="434.80" y="479.10" width="18.00" height="5.80" fill="#2e4b7a"/>
<line x1="443.50" y1="479.10" x2="443.50" y2="478.30" stroke="#111" stroke-width="1.2"/>
<line x1="438.80" y1="478.50" x2="448.80" y2="478.50" stroke="#111" stroke-width="1.3"/>
<rect x="461.70" y="416.00" width="18.00" height="68.90" fill="#a60026"/>
<line x1="470.50" y1="416.00" x2="470.50" y2="401.70" stroke="#111" stroke-width="1.2"/>
<line x1="465.70" y1="401.50" x2="475.70" y2="401.50" stroke="#111" stroke-width="1.3"/>
<rect x="488.60" y="473.60" width="18.00" height="11.30" fill="#da8c19"/>
<line x1="497.50" y1="473.60" x2="497.50" y2="473.10" stroke="#111" stroke-width="1.2"/>
<line x1="492.60" y1="473.50" x2="502.60" y2="473.50" stroke="#111" stroke-width="1.3"/>
<line x1="429.50" y1="386.00" x2="429.50" y2="484.90" stroke="#111" stroke-width="1.2"/>
<line x1="426.70" y1="484.50" x2="509.70" y2="484.50" stroke="#111" stroke-width="1.4"/>
<line x1="443.50" y1="484.90" x2="443.50" y2="488.10" stroke="#111" stroke-width="1.1"/>
<line x1="470.50" y1="484.90" x2="470.50" y2="488.10" stroke="#111" stroke-width="1.1"/>
<line x1="497.50" y1="484.90" x2="497.50" y2="488.10" stroke="#111" stroke-width="1.1"/>
<line x1="426.70" y1="484.50" x2="429.70" y2="484.50" stroke="#111" stroke-width="1.2"/>
<text x="423.70" y="487.65" font-size="7.9" text-anchor="end" fill="#2a2a2a" font-weight="normal" textLength="4.6" lengthAdjust="spacingAndGlyphs" stroke="#2a2a2a" stroke-width="0.12">0</text>
<line x1="426.70" y1="465.50" x2="429.70" y2="465.50" stroke="#111" stroke-width="1.2"/>
<text x="423.70" y="468.29" font-size="7.9" text-anchor="end" fill="#2a2a2a" font-weight="normal" textLength="23.0" lengthAdjust="spacingAndGlyphs" stroke="#2a2a2a" stroke-width="0.12">10000</text>
<line x1="426.70" y1="446.50" x2="429.70" y2="446.50" stroke="#111" stroke-width="1.2"/>
<text x="423.70" y="448.93" font-size="7.9" text-anchor="end" fill="#2a2a2a" font-weight="normal" textLength="23.0" lengthAdjust="spacingAndGlyphs" stroke="#2a2a2a" stroke-width="0.12">20000</text>
<line x1="426.70" y1="426.50" x2="429.70" y2="426.50" stroke="#111" stroke-width="1.2"/>
<text x="423.70" y="429.57" font-size="7.9" text-anchor="end" fill="#2a2a2a" font-weight="normal" textLength="23.0" lengthAdjust="spacingAndGlyphs" stroke="#2a2a2a" stroke-width="0.12">30000</text>
<line x1="426.70" y1="407.50" x2="429.70" y2="407.50" stroke="#111" stroke-width="1.2"/>
<text x="423.70" y="410.21" font-size="7.9" text-anchor="end" fill="#2a2a2a" font-weight="normal" textLength="23.0" lengthAdjust="spacingAndGlyphs" stroke="#2a2a2a" stroke-width="0.12">40000</text>
<line x1="426.70" y1="388.50" x2="429.70" y2="388.50" stroke="#111" stroke-width="1.2"/>
<text x="423.70" y="390.85" font-size="7.9" text-anchor="end" fill="#2a2a2a" font-weight="normal" textLength="23.0" lengthAdjust="spacingAndGlyphs" stroke="#2a2a2a" stroke-width="0.12">50000</text>
<line x1="427.90" y1="475.50" x2="429.70" y2="475.50" stroke="#111" stroke-width="0.9"/>
<line x1="427.90" y1="455.50" x2="429.70" y2="455.50" stroke="#111" stroke-width="0.9"/>
<line x1="427.90" y1="436.50" x2="429.70" y2="436.50" stroke="#111" stroke-width="0.9"/>
<line x1="427.90" y1="417.50" x2="429.70" y2="417.50" stroke="#111" stroke-width="0.9"/>
<line x1="427.90" y1="397.50" x2="429.70" y2="397.50" stroke="#111" stroke-width="0.9"/>
<text x="443.80" y="498.60" font-size="8.3" text-anchor="middle" fill="#111" font-weight="normal" textLength="17.2" lengthAdjust="spacingAndGlyphs" stroke="#111" stroke-width="0.12">Med.</text>
<text x="470.70" y="498.60" font-size="8.3" text-anchor="middle" fill="#111" font-weight="normal" textLength="12.3" lengthAdjust="spacingAndGlyphs" stroke="#111" stroke-width="0.12">IL-7</text>
<text x="497.60" y="498.60" font-size="8.3" text-anchor="middle" fill="#111" font-weight="normal" textLength="12.3" lengthAdjust="spacingAndGlyphs" stroke="#111" stroke-width="0.12">IL-7</text>
<text x="497.60" y="508.70" font-size="8.3" text-anchor="middle" fill="#111" font-weight="normal" textLength="20.8" lengthAdjust="spacingAndGlyphs" stroke="#111" stroke-width="0.12">+AZD</text>
<text x="470.90" y="375.90" font-size="8.2" text-anchor="middle" fill="#111" font-weight="normal" textLength="14.6" lengthAdjust="spacingAndGlyphs" stroke="#111" stroke-width="0.12">PDX</text>
<line x1="443.80" y1="397.50" x2="468.70" y2="397.50" stroke="#222" stroke-width="1.2"/>
<line x1="472.70" y1="397.50" x2="497.60" y2="397.50" stroke="#222" stroke-width="1.2"/>
<ellipse cx="454.80" cy="393.30" rx="1.15" ry="0.95" fill="#1a1a1a"/>
<ellipse cx="457.70" cy="393.30" rx="1.15" ry="0.95" fill="#1a1a1a"/>
<ellipse cx="483.70" cy="393.30" rx="1.15" ry="0.95" fill="#1a1a1a"/>
<ellipse cx="486.60" cy="393.30" rx="1.15" ry="0.95" fill="#1a1a1a"/>
<text x="7.00" y="17.20" font-size="11.7" text-anchor="start" fill="#000" font-weight="bold" stroke="#000" stroke-width="0.35">A</text>
<text x="258.60" y="17.20" font-size="11.7" text-anchor="start" fill="#000" font-weight="bold" stroke="#000" stroke-width="0.35">B</text>
<text x="7.00" y="190.00" font-size="11.7" text-anchor="start" fill="#000" font-weight="bold" stroke="#000" stroke-width="0.35">C</text>
<text x="258.60" y="189.80" font-size="11.7" text-anchor="start" fill="#000" font-weight="bold" stroke="#000" stroke-width="0.35">D</text>
<text x="7.30" y="361.80" font-size="11.7" text-anchor="start" fill="#000" font-weight="bold" stroke="#000" stroke-width="0.35">E</text>
<text x="258.60" y="362.00" font-size="11.7" text-anchor="start" fill="#000" font-weight="bold" stroke="#000" stroke-width="0.35">F</text>
<rect x="0.5" y="0.5" width="519" height="516" fill="none" stroke="#000" stroke-width="1"/>
<rect x="1" y="1" width="518" height="1" fill="#000" fill-opacity="0.12"/>
<rect x="1" y="1" width="1" height="515" fill="#000" fill-opacity="0.15"/>
<rect x="518" y="1" width="1" height="515" fill="#000" fill-opacity="0.5"/>
<rect x="1" y="515" width="518" height="1" fill="#000" fill-opacity="0.5"/>
</svg>
</body></html>
